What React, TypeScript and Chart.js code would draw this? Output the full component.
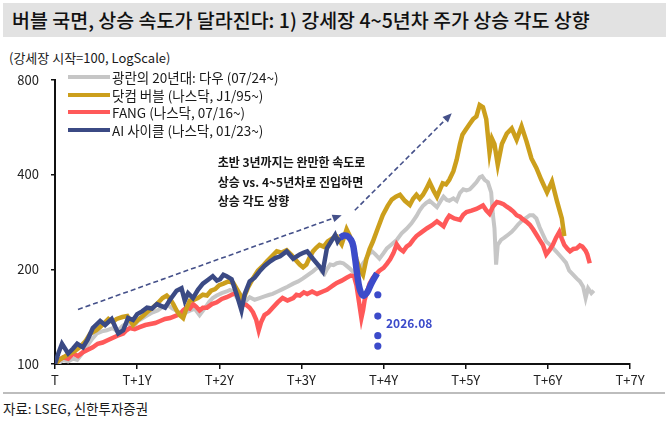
import { useEffect, useRef } from "react"
import Chart from "chart.js/auto"

const FONT = '"Noto Sans CJK KR", "Noto Sans", sans-serif'

// x: years since bull market start, y: index (start = 100)
const xTickLabels = ["T", "T+1Y", "T+2Y", "T+3Y", "T+4Y", "T+5Y", "T+6Y", "T+7Y"]
const yTicks = [100, 200, 400, 800]

const seriesNames = [
  "광란의 20년대: 다우 (07/24~)",
  "닷컴 버블 (나스닥, J1/95~)",
  "FANG (나스닥, 07/16~)",
  "AI 사이클 (나스닥, 01/23~)",
]
const seriesColors = ["#c6c6c6", "#cc9f1c", "#ff5959", "#3b4a84"]

const grayT = [
  0, 0.05, 0.1, 0.16, 0.22, 0.27, 0.33, 0.39, 0.45, 0.51,
  0.57, 0.63, 0.7, 0.76, 0.82, 0.88, 0.95, 1.01, 1.07, 1.13,
  1.19, 1.25, 1.31, 1.37, 1.43, 1.49, 1.55, 1.6, 1.65, 1.7,
  1.76, 1.82, 1.88, 1.92, 1.97, 2.03, 2.09, 2.13, 2.17, 2.21,
  2.25, 2.29, 2.33, 2.37, 2.43, 2.49, 2.55, 2.61, 2.65, 2.71,
  2.77, 2.83, 2.9, 2.96, 3.02, 3.08, 3.14, 3.18, 3.22, 3.25,
  3.28, 3.31, 3.35, 3.39, 3.43, 3.47, 3.51, 3.55, 3.59, 3.63,
  3.67, 3.71, 3.74, 3.77, 3.81, 3.86, 3.9, 3.95, 4.0, 4.04,
  4.1, 4.16, 4.22, 4.28, 4.34, 4.4, 4.44, 4.48, 4.52, 4.56,
  4.61, 4.65, 4.69, 4.73, 4.77, 4.8, 4.85, 4.89, 4.93, 4.97,
  5.01, 5.05, 5.09, 5.13, 5.17, 5.2, 5.23, 5.27, 5.31, 5.33,
  5.35, 5.37, 5.39, 5.43, 5.47, 5.52, 5.56, 5.6, 5.64, 5.69,
  5.74, 5.78, 5.82, 5.86, 5.9, 5.94, 5.98, 6.02, 6.06, 6.1,
  6.14, 6.18, 6.22, 6.26, 6.31, 6.35, 6.39, 6.43, 6.46, 6.49,
  6.53, 6.56,
]
const grayV = [
  100, 101, 103, 102, 104, 103, 108, 114, 120, 125,
  127, 128, 130, 127, 132, 135, 131, 137, 140, 143,
  146, 148, 152, 154, 150, 147, 143, 146, 148, 150,
  143, 150, 158, 162, 165, 168, 170, 172, 170, 163,
  158, 155, 159, 163, 160, 162, 164, 166, 167, 170,
  173, 176, 180, 183, 187, 192, 197, 201, 204, 196,
  193, 200, 207, 206, 209, 210, 209, 205, 201, 196,
  193, 200, 207, 212, 222, 228, 223, 216, 225, 233,
  240, 248, 260, 269, 280, 295, 308, 318, 325, 330,
  322, 315, 328, 340, 332, 330, 336, 330, 350, 359,
  356, 359, 368, 378, 392, 395, 385, 378, 351, 300,
  270, 207, 239, 248, 252, 258, 263, 270, 278, 286,
  292, 297, 297, 290, 272, 258, 245, 240, 234, 228,
  222, 216, 210, 198, 192, 187, 183, 176, 162, 174,
  168, 171,
]

const goldT = [
  0, 0.05, 0.1, 0.18, 0.24, 0.3, 0.37, 0.43, 0.5, 0.55,
  0.6, 0.65, 0.7, 0.75, 0.82, 0.88, 0.95, 1.01, 1.07, 1.13,
  1.19, 1.25, 1.31, 1.36, 1.4, 1.44, 1.48, 1.52, 1.56, 1.6,
  1.64, 1.69, 1.74, 1.8, 1.85, 1.9, 1.95, 2.0, 2.05, 2.11,
  2.17, 2.23, 2.29, 2.35, 2.41, 2.47, 2.53, 2.58, 2.64, 2.7,
  2.76, 2.82, 2.88, 2.93, 2.98, 3.02, 3.06, 3.1, 3.14, 3.18,
  3.22, 3.27, 3.32, 3.37, 3.43, 3.49, 3.55, 3.59, 3.63, 3.67,
  3.71, 3.75, 3.79, 3.83, 3.87, 3.93, 3.99, 4.05, 4.1, 4.15,
  4.2, 4.26, 4.32, 4.36, 4.4, 4.44, 4.48, 4.52, 4.56, 4.61,
  4.65, 4.69, 4.72, 4.76, 4.8, 4.85, 4.89, 4.93, 4.96, 5.0,
  5.05, 5.09, 5.13, 5.17, 5.21, 5.25, 5.29, 5.32, 5.35, 5.39,
  5.44, 5.5, 5.56, 5.62, 5.68, 5.74, 5.8, 5.86, 5.92, 5.99,
  6.05, 6.11, 6.17, 6.2,
]
const goldV = [
  100, 103, 105, 108, 110, 113, 118, 125, 128, 131,
  135, 139, 136, 139, 141, 142, 133, 138, 142, 147,
  151, 156, 162, 165, 161, 155, 148, 143, 140, 150,
  159, 160, 162, 166, 165, 171, 173, 178, 180, 183,
  181, 170, 160, 175, 187, 198, 205, 212, 220, 228,
  226, 230, 222, 214, 207, 203, 207, 218, 228, 234,
  239, 236, 245, 250, 254, 240, 268, 255, 238, 215,
  200, 192, 215, 232, 245, 270, 297, 318, 333, 340,
  345, 330, 320, 335, 345, 335, 345, 360, 378, 355,
  340, 360, 375, 372, 385, 410, 446, 500, 535, 555,
  580, 600, 612, 665, 655, 600, 470, 520, 500, 430,
  500, 540, 560, 516, 569, 510, 450, 420, 385, 351,
  380, 330, 290, 255,
]

const redT = [
  0, 0.05, 0.1, 0.16, 0.22, 0.28, 0.34, 0.4, 0.46, 0.52,
  0.58, 0.64, 0.7, 0.76, 0.83, 0.87, 0.91, 0.97, 1.03, 1.1,
  1.16, 1.22, 1.28, 1.34, 1.4, 1.46, 1.52, 1.56, 1.6, 1.64,
  1.68, 1.72, 1.76, 1.8, 1.85, 1.91, 1.97, 2.03, 2.09, 2.15,
  2.21, 2.25, 2.29, 2.33, 2.37, 2.41, 2.45, 2.48, 2.51, 2.55,
  2.6, 2.65, 2.71, 2.77, 2.83, 2.9, 2.94, 2.98, 3.03, 3.07,
  3.13, 3.19, 3.26, 3.31, 3.35, 3.39, 3.43, 3.49, 3.55, 3.6,
  3.64, 3.67, 3.7, 3.73, 3.75, 3.77, 3.8, 3.83, 3.87, 3.91,
  3.95, 4.0, 4.04, 4.08, 4.12, 4.16, 4.2, 4.24, 4.28, 4.32,
  4.36, 4.4, 4.46, 4.53, 4.59, 4.65, 4.69, 4.73, 4.77, 4.8,
  4.86, 4.93, 4.97, 5.01, 5.07, 5.13, 5.17, 5.21, 5.25, 5.29,
  5.33, 5.38, 5.42, 5.46, 5.5, 5.54, 5.58, 5.62, 5.66, 5.69,
  5.74, 5.78, 5.82, 5.86, 5.9, 5.94, 5.98, 6.02, 6.06, 6.1,
  6.14, 6.17, 6.2, 6.24, 6.27, 6.31, 6.35, 6.39, 6.42, 6.46,
  6.48, 6.51,
]
const redV = [
  100, 103, 105, 104, 108, 106, 109, 111, 113, 116,
  117, 119, 121, 123, 125, 128, 130, 129, 131, 133,
  134, 135, 137, 139, 140, 142, 144, 148, 151, 150,
  155, 152, 148, 151, 151, 155, 157, 161, 163, 166,
  168, 160, 155, 154, 151, 146, 138, 128, 136, 143,
  146, 151, 157, 162, 159, 162, 166, 165, 169, 167,
  170, 167, 170, 172, 175, 178, 181, 184, 188, 191,
  190, 178, 158, 140, 148, 160, 170, 180, 188, 193,
  198, 202, 208, 215, 225, 240, 232, 228, 236, 240,
  248, 255, 262, 270, 276, 284, 279, 274, 288, 296,
  290, 287, 298, 304, 307, 311, 315, 319, 308, 300,
  316, 327, 325, 322, 316, 311, 305, 297, 294, 289,
  283, 277, 268, 258, 248, 239, 223, 230, 239, 252,
  263, 250, 239, 232, 228, 232, 233, 238, 236, 229,
  223, 209,
]

const aiT = [
  0, 0.04, 0.085, 0.16, 0.22, 0.27, 0.34, 0.4, 0.46, 0.55,
  0.61, 0.69, 0.77, 0.83, 0.89, 0.95, 1.0, 1.06, 1.12, 1.18,
  1.24, 1.34, 1.4, 1.48, 1.54, 1.58, 1.62, 1.68, 1.74, 1.8,
  1.86, 1.92, 1.97, 2.01, 2.05, 2.09, 2.15, 2.21, 2.27, 2.31,
  2.37, 2.43, 2.49, 2.55, 2.62, 2.68, 2.74, 2.82, 2.86, 2.9,
  2.98, 3.03, 3.07, 3.14, 3.22, 3.26, 3.31, 3.36, 3.41, 3.44,
  3.47,
]
const aiV = [
  100, 108, 116, 108, 112, 116, 113, 120, 130, 137,
  133, 139, 125, 128, 140, 138, 144, 147, 151, 150,
  155, 151, 160, 171, 174, 159, 168, 162, 172, 180,
  185, 190, 184, 186, 192, 190, 186, 167, 148, 167,
  183, 188, 197, 205, 212, 217, 220, 228, 222, 216,
  223, 226, 228, 216, 204, 197, 233, 245, 257, 245,
  252,
]

// highlighted recent AI path, then dots to 2026.08
const recentT = [3.47, 3.52, 3.57, 3.62, 3.65, 3.68, 3.71, 3.75, 3.8, 3.85, 3.92]
const recentV = [252, 256, 254, 243, 220, 192, 173, 165, 169, 180, 194]
const dotT = [3.93, 3.93, 3.93, 3.93]
const dotV = [166, 142, 123, 114]
const recentColor = "#3c4bca"

// dashed arrows: [t0, v0, t1, v1]
const arrows = [
  [0.28, 149, 3.49, 297],
  [3.65, 308, 4.83, 626],
]
const noteLines = ["초반 3년까지는 완만한 속도로", "상승 vs. 4~5년차로 진입하면", "상승 각도 상향"]
const noteAt = [1.98, 436]
const dotLabel = "2026.08"
const dotLabelAt = [4.03, 135]

const zip = (t: number[], v: number[]) =>
  t.slice(0, Math.min(t.length, v.length)).map((x, i) => ({ x, y: v[i] }))

const notesPlugin = {
  id: "notes",
  afterDatasetsDraw(chart: any) {
    const { ctx } = chart
    const xs = chart.scales.x
    const ys = chart.scales.y
    ctx.save()
    ctx.strokeStyle = "#45518a"
    ctx.fillStyle = "#45518a"
    ctx.lineWidth = 1.6
    arrows.forEach(([t0, v0, t1, v1]) => {
      const x0 = xs.getPixelForValue(t0)
      const y0 = ys.getPixelForValue(v0)
      const x1 = xs.getPixelForValue(t1)
      const y1 = ys.getPixelForValue(v1)
      const a = Math.atan2(y1 - y0, x1 - x0)
      const hl = 10
      ctx.setLineDash([5, 3])
      ctx.beginPath()
      ctx.moveTo(x0, y0)
      ctx.lineTo(x1 - hl * 0.8 * Math.cos(a), y1 - hl * 0.8 * Math.sin(a))
      ctx.stroke()
      ctx.setLineDash([])
      ctx.beginPath()
      ctx.moveTo(x1, y1)
      ctx.lineTo(x1 - hl * Math.cos(a - 0.4), y1 - hl * Math.sin(a - 0.4))
      ctx.lineTo(x1 - hl * Math.cos(a + 0.4), y1 - hl * Math.sin(a + 0.4))
      ctx.closePath()
      ctx.fill()
    })

    ctx.font = `bold 12px ${FONT}`
    ctx.fillStyle = "#151515"
    ctx.textAlign = "left"
    ctx.textBaseline = "middle"
    const nx = xs.getPixelForValue(noteAt[0])
    const ny = ys.getPixelForValue(noteAt[1])
    noteLines.forEach((s, i) => ctx.fillText(s, nx, ny + i * 19.5))

    ctx.fillStyle = recentColor
    ctx.fillText(dotLabel, xs.getPixelForValue(dotLabelAt[0]), ys.getPixelForValue(dotLabelAt[1]))
    ctx.restore()
  },
}

export default function App() {
  const chartRef = useRef<HTMLCanvasElement>(null)
  const chartInstance = useRef<Chart | null>(null)

  useEffect(() => {
    if (!chartRef.current) return
    const ctx = chartRef.current.getContext("2d")
    if (!ctx) return
    if (chartInstance.current) chartInstance.current.destroy()

    const lineDs = (label: string, data: any, color: string, width: number, order: number) => ({
      label,
      data,
      borderColor: color,
      backgroundColor: color,
      borderWidth: width,
      pointRadius: 0,
      tension: 0,
      order,
    })

    chartInstance.current = new Chart(ctx, {
      type: "line",
      data: {
        datasets: [
          lineDs(seriesNames[0], zip(grayT, grayV), seriesColors[0], 4, 6),
          lineDs(seriesNames[1], zip(goldT, goldV), seriesColors[1], 4.5, 4),
          lineDs(seriesNames[2], zip(redT, redV), seriesColors[2], 4.5, 5),
          lineDs(seriesNames[3], zip(aiT, aiV), seriesColors[3], 4.5, 3),
          { ...lineDs("recent", zip(recentT, recentV), recentColor, 6.5, 2), tension: 0.4 },
          {
            ...lineDs("dots", zip(dotT, dotV), recentColor, 0, 1),
            showLine: false,
            pointRadius: 3.6,
            pointBorderWidth: 0,
          },
        ],
      },
      options: {
        animation: false,
        responsive: true,
        maintainAspectRatio: false,
        layout: { padding: { top: 17, right: 39, left: 0, bottom: 0 } },
        scales: {
          x: {
            type: "linear",
            min: 0,
            max: 7,
            afterBuildTicks: (s: any) => {
              s.ticks = xTickLabels.map((_, i) => ({ value: i }))
            },
            afterFit: (s: any) => {
              s.height = 31
            },
            ticks: {
              callback: (v: any) => xTickLabels[v] ?? "",
              font: { family: FONT, size: 13 },
              color: "#222",
              padding: 3,
              maxRotation: 0,
              autoSkip: false,
            },
            grid: { drawOnChartArea: false, tickLength: 5, color: "#111", lineWidth: 1.5 },
            border: { color: "#111", width: 2 },
          },
          y: {
            type: "logarithmic",
            min: 100,
            max: 800,
            afterBuildTicks: (s: any) => {
              s.ticks = yTicks.map((v) => ({ value: v }))
            },
            afterFit: (s: any) => {
              s.width = 55
            },
            ticks: {
              callback: (v: any) => String(v),
              font: { family: FONT, size: 13 },
              color: "#222",
              padding: 12,
            },
            grid: { drawOnChartArea: false, tickLength: 4, color: "#111", lineWidth: 1.5 },
            border: { color: "#111", width: 2 },
          },
        },
        plugins: {
          legend: { display: false },
          tooltip: { enabled: false },
        },
      },
      plugins: [notesPlugin],
    })

    return () => {
      if (chartInstance.current) {
        chartInstance.current.destroy()
        chartInstance.current = null
      }
    }
  }, [])

  return (
    <div
      style={{
        position: "absolute",
        left: 0,
        top: 0,
        width: 669,
        height: 424,
        background: "#fff",
        fontFamily: FONT,
        color: "#1a1a1a",
        overflow: "hidden",
      }}
    >
      <div
        style={{
          position: "absolute",
          left: 3,
          top: 3,
          width: 663,
          height: 34,
          background: "#e2e2e2",
          fontSize: 19.5,
          fontWeight: 500,
          lineHeight: "34px",
          paddingLeft: 9,
          boxSizing: "border-box",
          color: "#111",
          whiteSpace: "nowrap",
        }}
      >
        버블 국면, 상승 속도가 달라진다: 1) 강세장 4~5년차 주가 상승 각도 상향
      </div>
      <div style={{ position: "absolute", left: 9, top: 49, fontSize: 13, lineHeight: "18px" }}>
        (강세장 시작=100, LogScale)
      </div>
      <div style={{ position: "absolute", left: 0, top: 60, width: 669, height: 335 }}>
        <canvas ref={chartRef}></canvas>
      </div>
      {seriesNames.map((name, i) => (
        <div
          key={name}
          style={{
            position: "absolute",
            left: 68,
            top: 68 + i * 17.7,
            height: 18,
            display: "flex",
            alignItems: "center",
            fontSize: 13.5,
            whiteSpace: "nowrap",
          }}
        >
          <span style={{ width: 42, height: 4, background: seriesColors[i], marginRight: 2 }} />
          {name}
        </div>
      ))}
      <div style={{ position: "absolute", left: 3, top: 392, width: 662, height: 2, background: "#bdbdbd" }} />
      <div style={{ position: "absolute", left: 3, top: 399, fontSize: 13.5, lineHeight: "18px" }}>
        자료: LSEG, 신한투자증권
      </div>
    </div>
  )
}
